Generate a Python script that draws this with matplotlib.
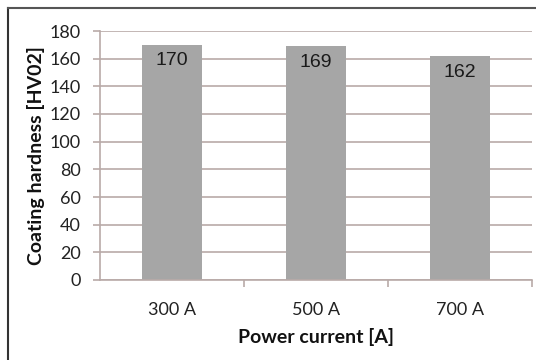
import matplotlib
matplotlib.use("Agg")
import matplotlib.pyplot as plt
from matplotlib.lines import Line2D

categories = ["300 A", "500 A", "700 A"]
hardness = [170, 169, 162]
y_ticks = list(range(0, 181, 20))

W, H = 536, 360
fig = plt.figure(figsize=(W / 100, H / 100), dpi=100)
ax = fig.add_axes([100 / W, 80 / H, 432 / W, 249 / H])

grid_col = "#b9aaa8"
bar_col = "#a6a6a6"

x = range(len(categories))
bars = ax.bar(x, hardness, width=0.42, color=bar_col, zorder=2)
for b, v in zip(bars, hardness):
    ax.text(b.get_x() + b.get_width() / 2, v - 5.5, str(v), ha="center", va="top",
            fontsize=14, family="Liberation Sans", color="#1a1a1a", zorder=3)

ax.set_xlim(-0.5, len(categories) - 0.5)
ax.set_ylim(0, 180)
ax.set_yticks(y_ticks)
ax.set_xticks(x)
ax.set_xticklabels(categories)
ax.set_xticks([0.5, 1.5, 2.5], minor=True)
ax.yaxis.grid(True, color=grid_col, linewidth=1.2, zorder=0)

for s in ["top", "right"]:
    ax.spines[s].set_visible(False)
ax.spines["left"].set_color(grid_col)
ax.spines["bottom"].set_color(grid_col)
ax.spines["left"].set_linewidth(1.2)
ax.spines["bottom"].set_linewidth(1.2)
ax.tick_params(axis="y", length=5, color=grid_col, width=1.2, labelsize=13,
               labelcolor="#222222", pad=9)
ax.tick_params(axis="x", which="major", length=0, labelsize=13,
               labelcolor="#222222", pad=16)
ax.tick_params(axis="x", which="minor", length=5, color=grid_col, width=1.2)
for lab in ax.get_xticklabels() + ax.get_yticklabels():
    lab.set_family("Lato")

ax.set_ylabel("Coating hardness [HV02]", fontsize=14, fontweight="bold",
              family="Lato", labelpad=3, color="#111111")
ax.set_xlabel("Power current [A]", fontsize=14, fontweight="bold",
              family="Lato", labelpad=7, color="#111111")

# outer frame (only left and top edges are visible)
fig.add_artist(Line2D([7.5 / W, 7.5 / W], [0, 1 - 8 / H], color="#333333",
                      linewidth=1.5, transform=fig.transFigure))
fig.add_artist(Line2D([7.5 / W, 1], [1 - 8 / H, 1 - 8 / H], color="#555555",
                      linewidth=1.5, transform=fig.transFigure))

fig.savefig("out.png", dpi=100)
